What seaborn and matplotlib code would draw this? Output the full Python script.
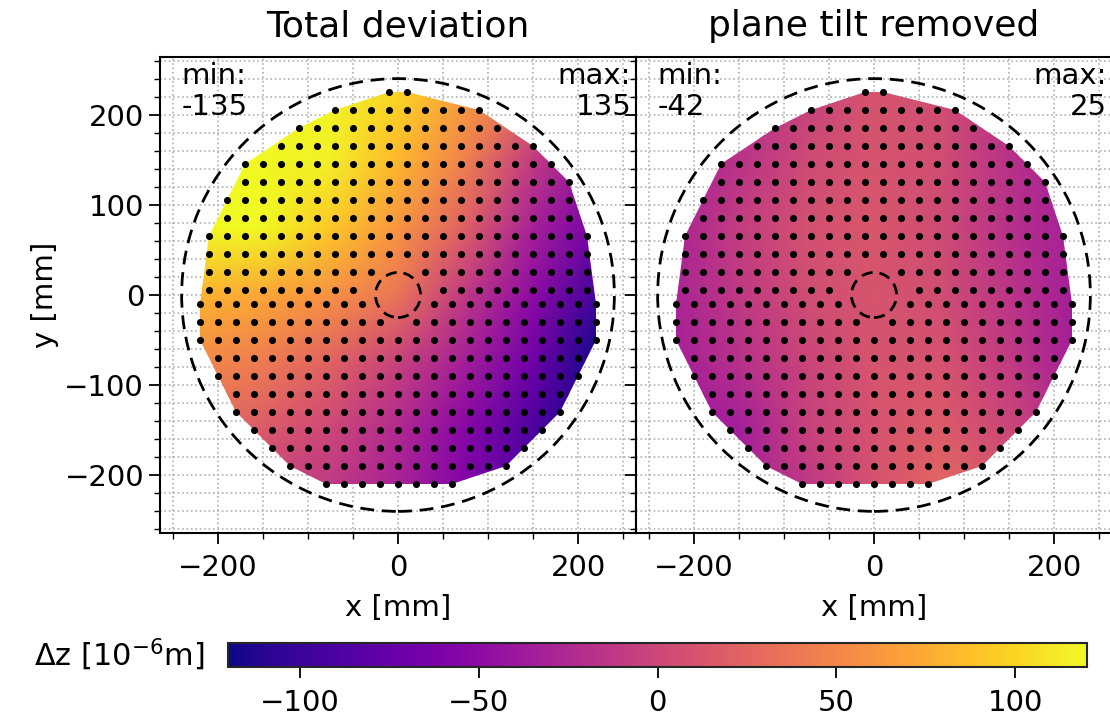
import numpy as np
import pandas as pd
import matplotlib
matplotlib.use("Agg")
import matplotlib.pyplot as plt
import seaborn as sns
from matplotlib.patches import Circle, Polygon
from matplotlib.ticker import MultipleLocator

# measurement grid: upper half (x = ±10, ±30, ...) and lower half (x = 0, ±20, ...)
row_y_up = [225, 205, 185, 165, 145, 125, 105, 85, 65, 45, 25, 5]
x_left_up = [-10, -70, -110, -130, -170, -170, -190, -190, -210, -210, -210, -210]
x_right_up = [10, 90, 110, 150, 170, 190, 190, 190, 210, 210, 210, 210]

row_y_low = [-10, -30, -50, -70, -90, -110, -130, -150, -170, -190, -210]
x_left_low = [-220, -220, -220, -200, -200, -180, -180, -160, -140, -120, -80]
x_right_low = [220, 220, 220, 200, 200, 180, 180, 160, 140, 120, 60]

# points hidden by the central hole
skipped = [(-10, 25), (10, 25), (-30, 5), (-10, 5), (10, 5), (30, 5),
           (-20, -10), (0, -10), (20, -10), (0, -30)]

# deviation on a coarse 75 mm node grid [1e-6 m]
node_x = [-225, -150, -75, 0, 75, 150, 225]
node_y = [225, 150, 75, 0, -75, -150, -225]
dz_total = [
    [130, 125, 118, 100, 65, 30, 0],
    [128, 125, 115, 82, 45, -10, -50],
    [125, 120, 92, 60, 20, -32, -68],
    [80, 72, 58, 36, -12, -50, -98],
    [52, 42, 22, -4, -34, -70, -122],
    [30, 15, 0, -25, -55, -90, -125],
    [0, -8, -14, -32, -58, -88, -125],
]
dz_flat = [
    [-35, -25, -5, 12, 5, -20, -40],
    [-35, -16, 2, 12, 5, -17, -35],
    [-30, -8, 8, 14, 3, -18, -33],
    [-30, -12, 5, 12, 5, -15, -35],
    [-33, -18, -2, 12, 10, -10, -35],
    [-40, -34, -5, 10, 17, 0, -25],
    [-35, -25, -15, 10, 27, 15, -10],
]

titles = ["Total deviation", "plane tilt removed"]
mins = [-135, -42]
maxs = [135, 25]

pts = []
for ys, xl, xr in [(row_y_up, x_left_up, x_right_up), (row_y_low, x_left_low, x_right_low)]:
    for y, a, b in zip(ys, xl, xr):
        for x in range(a, b + 1, 20):
            if (x, y) not in skipped:
                pts.append((x, y))
df = pd.DataFrame(pts, columns=["x", "y"])


def hull(p):
    p = sorted(set(p))
    def cross(o, a, b):
        return (a[0]-o[0])*(b[1]-o[1]) - (a[1]-o[1])*(b[0]-o[0])
    lo, up = [], []
    for q in p:
        while len(lo) >= 2 and cross(lo[-2], lo[-1], q) <= 0:
            lo.pop()
        lo.append(q)
    for q in reversed(p):
        while len(up) >= 2 and cross(up[-2], up[-1], q) <= 0:
            up.pop()
        up.append(q)
    return lo[:-1] + up[:-1]


outline = hull(pts)

sns.set_theme(style="ticks")
plt.rcParams["font.family"] = ["DejaVu Sans"]
for k in ["text.color", "axes.labelcolor", "xtick.color", "ytick.color"]:
    plt.rcParams[k] = "black"

fs = 21
fig = plt.figure(figsize=(11.1, 7.17), dpi=100)
w, h = 1110, 717
axes = [fig.add_axes([160/w, 184/h, 476/w, 476/h]),
        fig.add_axes([636/w, 184/h, 476/w, 476/h])]

X, Y = np.meshgrid(node_x, node_y)
for i, ax in enumerate(axes):
    Z = np.array([dz_total, dz_flat][i], dtype=float)
    mesh = ax.pcolormesh(X, Y, Z, shading="gouraud", cmap="plasma",
                         vmin=-120, vmax=120, zorder=1)
    mesh.set_clip_path(Polygon(outline, closed=True, transform=ax.transData))
    sns.scatterplot(data=df, x="x", y="y", ax=ax, color="black", s=26,
                    linewidth=0, zorder=3, legend=False)
    ax.add_patch(Circle((0, 0), 240, fill=False, ls=(0, (5, 2.8)), lw=2,
                        color="black", zorder=2))
    ax.add_patch(Circle((0, 0), 25, fill=False, ls=(0, (4, 2.5)), lw=2,
                        color="black", zorder=2))
    ax.set_xlim(-264, 264)
    ax.set_ylim(-264, 264)
    ax.set_aspect("equal")
    ax.xaxis.set_major_locator(MultipleLocator(200))
    ax.xaxis.set_minor_locator(MultipleLocator(50))
    ax.yaxis.set_major_locator(MultipleLocator(100))
    ax.yaxis.set_minor_locator(MultipleLocator(20))
    ax.grid(which="both", ls=":", color="#b0b0b0", lw=1.2, zorder=1.5)
    ax.tick_params(which="both", direction="out", left=True, right=True,
                   labelsize=fs, color="black")
    ax.tick_params(which="major", length=8, width=1.3)
    ax.tick_params(which="minor", length=4, width=1)
    ax.tick_params(axis="x", which="major", pad=7)
    for s in ax.spines.values():
        s.set_linewidth(1.5)
        s.set_color("black")
    ax.set_title(titles[i], fontsize=26, pad=15)
    ax.set_xlabel("x [mm]", fontsize=fs, labelpad=9)
    ax.text(0.045, 0.99, f"min:\n{mins[i]}", transform=ax.transAxes,
            ha="left", va="top", fontsize=fs, linespacing=1.15)
    ax.text(0.99, 0.99, f"max:\n{maxs[i]}", transform=ax.transAxes,
            ha="right", va="top", fontsize=fs, linespacing=1.15)
axes[0].set_ylabel("y [mm]", fontsize=fs)
axes[1].set_ylabel("")
axes[1].tick_params(labelleft=False)

cax = fig.add_axes([228/w, 50/h, 859/w, 24/h])
cb = fig.colorbar(mesh, cax=cax, orientation="horizontal")
cb.set_ticks([-100, -50, 0, 50, 100])
cax.tick_params(labelsize=fs, length=8, width=1.3, pad=8)
cb.outline.set_linewidth(1.5)
fig.text(205/w, 62/h, r"$\Delta$z [10$^{-6}$m]", ha="right", va="center",
         fontsize=22)

fig.savefig("out.png", dpi=100)
